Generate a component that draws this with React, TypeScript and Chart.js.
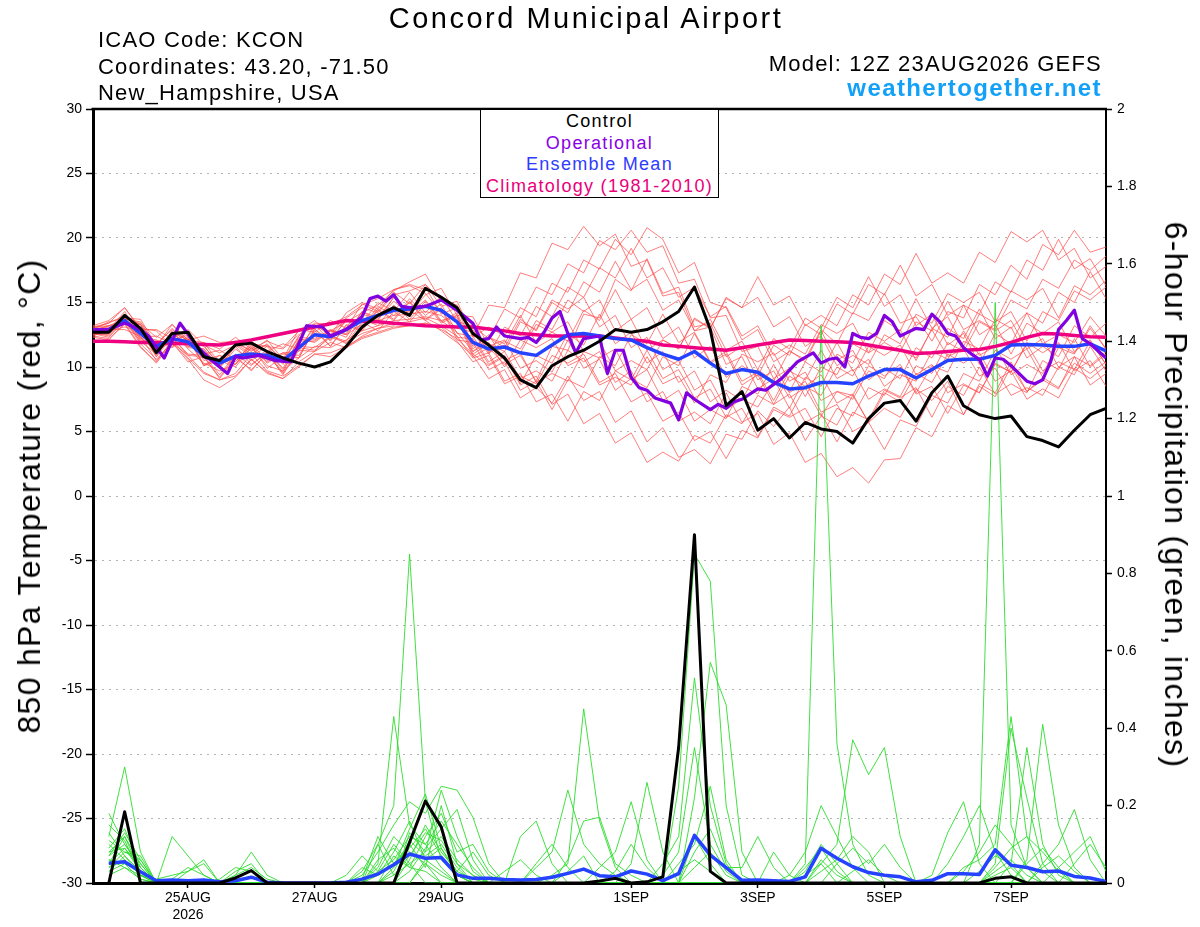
import React, { useEffect, useRef } from "react";
import { Chart, registerables } from "chart.js";
Chart.register(...registerables);

const FONT = '"Liberation Sans", Arial, Helvetica, sans-serif';
const STEP = 6; // hours between ensemble outputs

// X axis ticks (forecast hour from 12Z 23AUG2026)
const xTickHours = [36, 84, 132, 204, 252, 300, 348];
const xTickLabels: (string | string[])[] = [["25AUG", "2026"], "27AUG", "29AUG", "1SEP", "3SEP", "5SEP", "7SEP"];

// 850 hPa temperature (C), 6-hourly from hour 0
const controlTemp = [12.7,12.7,14.0,13.0,11.1,12.6,12.7,10.8,10.5,11.7,11.85,11.2,10.7,10.3,10.0,10.4,11.6,13.1,14.0,14.6,14.0,16.1,15.4,14.6,12.6,11.7,10.7,9.0,8.4,10.1,10.8,11.3,12.0,12.9,12.7,12.9,13.5,14.3,16.2,12.9,7.0,8.1,5.1,6.0,4.5,5.7,5.2,5.0,4.1,6.0,7.2,7.4,5.8,8.0,9.3,7.0,6.3,6.0,6.2,4.6,4.3,3.8,5.1,6.3,6.8];
const meanTemp = [12.8,12.9,13.6,12.6,11.6,12.2,11.95,10.85,10.3,10.85,11.0,10.9,10.5,11.5,12.5,12.35,12.9,13.6,14.0,14.4,14.5,14.7,14.4,13.5,11.9,11.4,11.55,11.1,10.9,11.7,12.5,12.6,12.4,12.2,12.1,11.5,11.0,10.6,11.2,10.3,9.5,9.8,9.6,8.8,8.3,8.4,8.8,8.8,8.7,9.3,9.8,9.8,9.15,9.8,10.5,10.6,10.6,10.9,11.7,11.75,11.7,11.6,11.6,11.8,11.25];
const climTemp = [12.0,12.0,11.95,11.9,11.9,11.85,11.8,11.75,11.7,11.9,12.1,12.35,12.6,12.85,13.1,13.35,13.6,13.55,13.5,13.4,13.3,13.2,13.15,13.1,13.1,12.95,12.8,12.6,12.5,12.4,12.4,12.4,12.4,12.25,12.1,12.0,11.7,11.6,11.5,11.4,11.3,11.5,11.7,11.9,12.1,12.05,12.0,11.95,11.9,11.7,11.5,11.3,11.05,11.1,11.2,11.3,11.35,11.6,11.9,12.3,12.6,12.55,12.45,12.35,12.3];

// Operational run (irregular hours)
const opHours = [0,6,12,18,21,27,33,39,45,51,54,57,63,69,75,81,87,90,96,102,105,108,111,114,117,120,126,132,138,144,147,150,153,156,162,165,168,171,174,177,180,183,186,192,195,198,201,204,207,210,213,219,222,225,228,234,237,240,243,246,252,255,261,267,273,276,279,282,285,288,291,294,297,300,303,306,309,312,315,318,321,324,327,330,333,336,339,342,345,348,351,354,357,360,363,366,369,372,375,378,384];
const opTemp = [12.9,12.9,13.4,12.9,12.4,10.7,13.4,11.7,10.5,9.5,10.8,10.7,10.9,10.5,10.4,13.2,13.1,12.4,12.9,13.9,15.3,15.5,15.1,15.6,14.7,14.6,14.7,15.2,14.4,13.4,12.1,12.2,13.1,12.4,12.2,12.3,11.9,12.7,13.8,14.3,12.6,11.1,12.2,12.4,9.5,11.3,11.3,9.2,8.4,8.2,7.6,7.2,5.9,8.0,7.5,6.7,7.1,6.8,7.3,7.5,8.3,8.2,9.1,10.4,11.1,10.3,10.6,10.7,10.0,12.6,12.3,12.2,12.6,14.0,13.5,12.4,12.7,13.0,12.9,14.1,13.5,12.6,12.4,11.5,11.0,10.6,9.3,10.7,10.6,10.1,9.5,8.9,8.7,9.0,10.4,12.9,13.6,14.4,12.2,11.8,10.7];

// Ensemble member temperatures (6-hourly from hour 0)
const tMem01 = [13.0,13.4,14.0,13.3,11.8,12.9,12.0,11.6,10.2,11.8,11.3,11.7,10.5,12.4,13.3,12.4,13.8,14.6,14.2,15.6,15.9,16.4,15.2,14.8,12.3,13.1,12.4,14.6,13.9,16.5,15.8,18.3,17.6,19.9,18.7,20.8,19.9,17.3,18.1,15.0,14.6,12.1,12.9,10.4,11.2,10.6,12.9,11.8,14.2,13.6,15.7,13.4,13.9,12.0,14.3,13.8,16.4,15.6,17.9,16.8,19.5,18.7,20.6,18.9,19.3];
const tMem02 = [12.6,12.3,13.6,11.8,10.6,11.9,10.9,9.6,9.0,9.3,10.6,9.5,9.1,10.4,11.2,11.9,11.5,12.4,13.0,13.2,14.4,13.6,12.8,11.9,10.9,9.1,9.8,7.6,8.4,7.2,9.3,7.4,8.1,5.7,6.6,4.2,5.3,3.0,3.6,2.5,4.8,4.4,6.6,5.4,6.9,4.3,6.2,5.5,7.8,5.7,6.8,6.1,8.3,7.4,8.9,6.3,8.5,7.7,10.0,8.1,9.2,8.4,10.3,9.5,10.4];
const tMem03 = [12.9,13.2,13.5,13.4,12.3,13.3,12.1,11.9,11.4,12.3,11.4,12.0,11.5,12.8,13.6,12.5,14.2,15.0,14.5,16.0,16.3,15.7,14.2,13.8,10.8,11.5,10.2,10.9,8.9,11.6,11.3,14.1,13.8,16.8,15.9,18.4,15.7,16.2,13.1,13.4,10.8,11.6,9.0,9.7,7.6,8.4,6.2,8.1,7.8,10.1,9.3,10.2,8.0,10.1,9.6,12.0,11.4,13.7,13.0,14.2,11.8,12.5,11.9,13.9,12.4];
const tMem04 = [12.4,12.9,12.9,12.4,10.5,11.9,10.4,10.8,9.2,10.9,9.7,11.1,9.4,11.3,11.2,12.5,11.8,13.5,12.8,14.3,13.5,14.9,13.4,14.0,11.0,11.8,11.2,13.5,12.9,15.2,14.5,15.4,13.1,14.0,11.5,12.3,9.8,10.5,8.2,9.0,6.7,7.5,6.9,8.9,8.1,10.4,9.6,11.9,9.7,10.6,8.5,9.4,8.9,11.2,10.6,12.8,10.9,11.6,9.4,10.2,9.5,11.8,11.1,13.0,11.4];
const tMem05 = [13.2,13.6,14.6,13.0,12.8,11.6,12.4,10.1,10.9,10.2,12.0,11.2,11.8,11.4,13.1,12.8,12.6,14.3,13.8,15.4,14.1,15.6,16.1,14.0,13.9,11.6,12.1,9.9,10.5,9.6,12.1,9.9,10.6,8.2,9.1,8.4,10.8,10.1,12.6,10.3,11.0,8.6,9.4,7.1,7.9,5.7,6.4,4.2,6.5,5.9,8.2,7.6,8.4,6.1,8.5,7.8,10.0,7.9,8.7,8.0,10.5,9.8,12.2,10.0,11.0];
const tMem06 = [12.7,12.6,13.9,12.1,11.9,12.0,12.5,11.0,11.3,10.6,11.6,9.9,10.8,10.7,12.9,12.1,13.6,13.0,14.7,14.0,15.0,13.6,14.5,12.1,11.9,9.8,10.4,8.2,8.9,6.7,9.0,8.4,10.8,10.1,12.5,11.8,14.1,11.9,12.7,10.4,11.2,8.9,9.6,7.4,9.7,9.0,11.3,9.1,9.8,7.5,8.3,7.7,10.1,9.5,11.9,11.2,13.5,12.8,13.6,11.4,12.2,10.0,10.8,8.6,9.5];
const tMem07 = [12.8,12.9,14.3,12.3,12.4,11.8,12.7,10.5,10.9,10.4,11.8,10.5,11.1,11.2,13.3,12.0,13.7,13.4,15.0,14.3,15.8,14.2,15.5,13.5,13.2,12.2,14.5,13.8,16.2,15.6,18.0,17.3,19.8,19.1,20.6,18.9,19.4,16.5,16.8,13.8,14.0,11.2,11.6,9.1,9.9,7.7,10.0,9.4,11.8,11.1,13.6,12.8,15.3,13.0,13.9,11.6,14.1,13.4,15.9,15.2,16.1,13.8,16.3,15.6,16.7];
const tMem08 = [12.5,12.8,13.1,12.8,10.8,12.3,11.0,10.9,9.4,11.0,10.1,11.2,9.8,11.6,11.5,12.4,12.0,13.8,13.2,14.8,13.7,15.1,13.5,14.2,11.4,12.5,10.5,11.1,8.8,9.5,8.9,11.2,10.7,11.4,9.0,9.8,7.4,8.2,5.8,6.7,6.0,8.5,7.9,10.2,8.0,8.9,6.5,7.1,5.0,5.7,3.6,5.9,5.4,7.8,7.2,9.5,8.9,11.3,10.6,11.4,9.2,11.5,11.0,13.2,11.4];
const tMem09 = [13.1,13.2,13.7,13.5,11.6,13.3,11.9,11.7,10.0,11.6,10.2,11.1,9.6,12.2,11.9,12.8,12.3,14.3,13.6,15.4,14.3,16.2,14.1,14.6,11.6,12.3,11.5,13.7,12.8,15.0,14.2,16.6,15.8,18.2,16.0,16.8,14.4,15.2,12.8,13.7,11.3,12.0,9.8,12.2,11.4,13.8,13.0,15.4,14.6,17.0,14.7,15.6,13.2,14.1,11.7,12.6,10.2,12.6,11.8,14.2,13.4,15.8,15.0,17.4,15.3];
const tMem10 = [12.6,12.7,13.8,11.9,12.0,11.5,12.3,10.2,10.6,10.2,11.7,10.3,11.0,10.9,12.8,11.6,13.3,12.9,14.5,13.7,15.3,14.0,14.9,12.6,12.4,10.4,11.2,9.1,9.7,8.9,11.3,10.4,11.2,8.8,9.7,7.3,8.1,5.8,6.5,5.6,8.0,5.7,6.4,4.0,4.9,2.6,3.3,1.5,2.2,1.0,2.8,2.9,5.3,4.6,7.0,6.3,8.7,8.0,10.4,8.1,9.0,8.3,10.8,10.1,11.2];
const tMem11 = [12.9,13.5,13.8,13.7,11.7,13.0,11.6,11.9,10.3,11.8,11.0,11.8,10.4,12.3,12.2,12.9,12.5,14.1,13.7,15.1,14.1,15.2,13.6,14.0,11.2,12.3,11.8,14.0,11.9,12.7,12.0,14.4,13.6,16.0,13.7,14.6,12.2,13.1,10.7,11.6,9.2,10.1,9.3,11.7,10.9,13.3,12.5,14.9,14.1,16.4,15.6,17.9,15.5,16.4,14.0,14.8,12.5,13.3,11.0,13.4,12.6,13.5,11.2,12.1,10.2];
const tMem12 = [12.3,12.1,13.4,11.6,10.3,11.9,10.6,9.0,8.4,9.2,10.6,9.6,9.1,10.0,11.0,10.8,11.5,12.2,12.6,13.0,13.2,13.4,12.9,12.2,11.0,10.1,10.8,8.6,9.3,7.1,7.9,5.6,6.4,4.1,4.9,2.6,3.4,2.7,4.7,4.1,6.3,5.6,7.8,7.1,9.3,8.5,9.4,7.2,7.9,5.7,8.0,7.3,9.5,8.8,11.0,10.3,11.1,8.9,9.7,7.5,8.3,7.6,9.9,9.1,10.1];
const tMem13 = [13.0,13.0,13.4,13.3,11.2,12.7,11.5,11.4,10.0,11.7,10.8,11.6,10.2,12.0,12.0,12.8,13.5,14.2,14.8,15.9,16.6,17.2,15.1,14.4,12.9,11.2,12.0,11.4,13.6,12.9,15.2,14.3,15.2,12.8,13.7,11.3,12.1,11.4,13.8,13.0,15.4,14.6,17.0,14.8,15.5,13.2,14.0,13.2,15.6,14.8,17.2,16.4,18.8,16.5,17.3,16.5,18.9,18.1,20.5,19.7,20.6,18.3,19.2,16.9,17.8];
const tMem14 = [12.7,12.4,13.7,12.2,12.1,11.6,12.2,10.1,10.5,10.0,11.5,10.4,11.1,10.7,13.0,11.6,13.2,12.8,14.4,13.6,15.1,13.7,14.6,12.3,12.2,10.2,10.9,8.7,10.9,10.3,12.6,11.7,14.1,11.8,12.7,10.3,11.2,8.8,9.7,7.3,8.2,7.4,9.8,8.9,11.3,10.4,12.8,10.5,11.3,9.0,9.9,9.1,11.5,10.7,13.0,12.2,14.5,12.2,13.1,10.7,11.6,10.8,13.2,12.3,13.4];
const tMem15 = [12.8,13.2,13.4,13.1,10.8,12.7,12.1,12.4,11.9,12.0,11.2,12.1,10.6,12.9,12.7,13.6,13.0,14.9,14.3,15.8,14.9,16.4,14.7,15.1,12.4,14.8,14.6,17.3,16.9,19.6,19.1,20.9,19.4,20.3,17.8,18.3,15.5,15.8,12.8,13.1,10.2,10.8,8.3,9.1,6.8,9.2,8.5,11.0,10.3,12.7,12.0,12.9,10.5,13.0,12.3,14.8,14.1,16.6,15.8,18.3,17.5,19.9,17.6,18.4,16.3];
const tMem16 = [12.5,12.6,13.6,12.0,11.0,12.3,10.9,10.8,9.1,10.7,9.8,11.0,9.5,11.5,11.3,12.3,11.9,12.6,13.0,13.4,13.5,13.8,13.2,12.4,10.7,11.1,8.9,9.5,7.3,7.9,5.8,8.1,7.4,9.7,9.0,11.3,9.1,9.8,7.6,8.3,6.1,6.8,4.6,6.9,6.2,8.5,7.8,10.0,9.3,11.6,10.9,11.7,9.4,10.2,8.0,8.7,8.0,10.3,9.6,11.9,11.1,11.9,9.7,10.5,8.5];
const tMem17 = [13.1,13.4,14.6,12.9,12.9,12.2,12.9,11.7,11.1,11.7,11.8,11.6,11.4,12.5,13.4,13.3,13.9,14.8,15.3,16.0,16.4,16.0,15.5,14.6,13.2,11.1,11.7,11.1,13.3,12.7,13.5,11.2,12.0,9.7,10.5,9.8,12.1,11.4,13.7,13.0,15.3,14.6,15.4,13.1,13.9,11.6,12.4,10.1,10.9,10.2,12.5,11.8,14.1,13.4,15.7,15.0,15.8,13.5,14.3,12.0,14.3,13.6,15.9,15.2,16.2];
const tMem18 = [12.6,12.5,13.8,12.3,11.2,12.8,11.4,10.3,9.7,10.2,11.5,10.1,9.7,10.7,11.6,11.5,12.1,12.8,13.2,13.6,13.7,13.9,13.6,12.7,11.2,11.9,10.0,12.1,11.5,12.2,10.1,10.7,8.6,9.2,8.6,10.8,8.7,9.3,7.2,9.4,8.8,11.0,10.4,11.1,8.9,9.6,7.4,8.1,7.5,9.7,9.1,11.3,10.7,12.9,10.8,11.4,9.3,9.9,7.8,8.4,7.8,10.0,9.4,11.6,9.7];
const tMem19 = [12.8,13.1,13.5,13.3,11.3,12.7,11.6,11.4,9.9,11.4,10.5,11.3,9.9,12.1,12.1,12.8,12.5,13.3,13.6,14.0,14.1,14.3,14.0,13.0,12.7,11.0,13.1,12.4,14.7,13.9,16.2,15.4,17.7,16.9,19.2,16.9,17.7,15.4,16.2,13.9,14.7,12.4,13.2,10.9,11.7,11.0,13.3,12.6,13.4,11.1,11.9,11.2,13.5,12.8,15.1,12.9,13.6,12.9,15.2,14.5,16.8,16.1,18.3,17.5,18.6];
const tMem20 = [12.4,12.2,13.3,11.5,10.4,12.1,10.7,9.5,9.0,9.5,11.0,9.7,9.3,10.1,11.0,11.1,11.6,12.3,12.7,13.1,13.2,13.4,13.1,12.0,10.4,10.9,8.7,9.3,8.7,10.9,10.3,11.0,8.8,9.5,7.3,8.0,5.8,6.5,4.3,5.0,2.9,5.1,4.5,6.7,6.1,6.8,4.6,6.8,6.2,8.4,7.8,10.0,7.9,8.5,6.4,8.6,8.0,10.2,9.6,11.8,9.7,10.4,9.8,12.0,10.2];
const tempMembers = [tMem01,tMem02,tMem03,tMem04,tMem05,tMem06,tMem07,tMem08,tMem09,tMem10,tMem11,tMem12,tMem13,tMem14,tMem15,tMem16,tMem17,tMem18,tMem19,tMem20];

// 6-hour precipitation (inches), 6-hourly from hour 6
const controlPrecip = [0,.184,0,0,0,0,0,0, .013,.032,0,0,0,0,0,0, 0,0,0,.105,.212,.145,0,0, 0,0,0,0,0,0,0,.005, .012,0,.003,.016,.35,.90,.03,0, 0,0,0,0,0,0,0,0, 0,0,0,0,0,0,0,0, .012,.016,0,0,0,0,0,0];
const meanPrecip = [.051,.055,.029,.006,.008,.006,.008,.003, .006,.015,.002,0,0,0,0,.002, .01,.023,.047,.075,.064,.066,.021,.012, .012,.009,.008,.009,.015,.025,.036,.019, .016,.031,.023,.006,.024,.123,.072,.04, .007,.008,.006,.004,.016,.09,.064,.042, .027,.02,.016,.003,.007,.024,.024,.022, .086,.046,.04,.029,.031,.017,.013,.004];

const pMem01 = [.12,.30,.08,0,0,0,0,0, 0,0,0,0,0,0,0,0, .03,.10,.20,.85,.21,.06,.02,0, 0,0,0,0,0,0,0,0, 0,0,0,.05,.12,.53,.20,.05, 0,0,0,0,0,0,0,0, 0,0,0,0,0,0,.03,.08, .15,.10,.04,0,0,0,0,0];
const pMem02 = [.18,.10,.04,0,0,0,0,0, 0,0,0,0,0,0,0,0, 0,.05,.43,.15,.10,.04,0,0, 0,0,0,0,.02,.05,.45,.16, .04,0,0,0,0,0,0,0, 0,0,0,0,.05,1.44,.36,.10, .02,0,0,0,0,0,0,0, 0,0,0,0,0,0,0,0];
const pMem03 = [.08,.12,.05,0,.12,.07,.02,0, 0,0,0,0,0,0,0,0, .02,.08,.15,.21,.18,.25,.24,.17, .05,0,0,0,0,0,0,0, 0,0,0,0,0,0,0,0, 0,0,0,0,0,.05,.10,.37, .28,.35,.12,0,0,0,0,0, .03,.06,.02,0,0,0,0,0];
const pMem04 = [.05,.09,.03,0,0,0,0,0, .02,.08,.02,0,0,0,0,0, 0,.03,.06,.12,.10,.16,.10,.04, 0,0,0,0,0,0,0,0, 0,0,0,0,.25,.85,.78,.20, .02,0,0,0,0,0,0,0, 0,0,0,0,0,.05,.12,.20, .08,.02,0,0,0,0,0,0];
const pMem05 = [.10,.06,.02,.01,.02,.03,.06,0, 0,0,0,0,0,0,0,.02, .07,.03,.10,.05,.08,.24,.12,.03, 0,0,.12,.16,.05,0,0,0, 0,0,0,0,0,0,0,0, 0,0,0,0,.03,.10,.05,0, 0,0,0,0,0,0,0,.03, .07,.05,0,0,0,0,0,0];
const pMem06 = [.04,.08,.06,0,0,0,0,0, 0,0,0,0,0,0,0,0, .01,.12,.05,.09,.14,.07,.02,0, 0,0,0,0,0,0,0,0, 0,0,0,0,0,.22,.57,.46, .08,0,0,0,0,0,0,0, 0,0,0,0,0,0,0,.10, 1.50,.15,.04,0,0,0,0,0];
const pMem07 = [.15,.11,.02,0,0,0,0,0, 0,0,0,0,0,0,0,0, 0,0,.04,.14,.23,.09,.03,.01, 0,0,0,.04,.08,.24,.10,.05, .02,0,0,0,0,0,0,0, 0,0,0,.02,.08,.20,.12,.04, 0,0,0,0,0,0,0,0, 0,0,0,0,0,0,0,0];
const pMem08 = [.06,.05,.03,0,.01,.04,.02,0, 0,0,0,0,0,0,0,0, 0,.06,.09,.04,.12,.18,.08,.10, .03,0,0,0,0,0,0,0, 0,0,0,0,.05,.10,.25,.06, 0,0,0,0,0,0,0,0, 0,0,0,0,0,0,0,0, .05,.40,.22,.05,0,0,0,0];
const pMem09 = [.09,.14,.04,0,0,0,0,0, .03,.05,0,0,0,0,0,0, .04,.02,.08,.16,.06,.03,0,0, 0,0,0,0,0,.06,.16,.17, .05,.02,0,0,0,0,0,0, 0,0,0,0,0,.03,.06,.12, .08,0,0,0,0,0,0,0, 0,0,0,0,0,0,0,0];
const pMem10 = [.03,.07,.02,0,0,0,0,0, 0,0,0,0,0,0,0,0, 0,0,.02,.07,.13,.11,.05,0, 0,0,0,0,0,0,0,0, 0,0,0,0,0,.08,.14,.04, .04,.12,.04,0,0,0,0,0, 0,0,0,0,0,0,.04,.06, .10,.43,.12,.03,0,0,0,0];
const pMem11 = [.07,.10,.05,0,0,0,0,0, 0,0,0,0,0,0,0,0, 0,.02,.05,.10,.04,.20,.05,.02, 0,0,0,0,0,0,0,.04, .08,.21,.06,0,0,0,0,0, 0,0,0,0,.04,.09,.03,0, 0,0,0,0,0,0,0,0, 0,0,0,.04,.07,.03,0,0];
const pMem12 = [.02,.04,.01,0,0,.03,.05,0, 0,0,0,0,0,0,0,0, 0,0,0,.03,.09,.14,.19,.06, 0,0,0,0,0,0,0,0, 0,0,0,0,.03,.06,.03,0, 0,0,0,0,0,0,0,0, 0,0,0,0,0,0,0,0, 0,.05,.35,.10,.02,0,0,0];
const pMem13 = [.11,.08,.07,0,0,0,0,0, 0,0,0,0,0,0,0,0, 0,.04,.12,.08,.05,0,0,0, 0,0,0,0,0,0,0,0, 0,.05,.26,.08,0,0,0,0, 0,0,0,0,0,0,.05,.09, .05,.10,.04,0,0,0,0,0, .02,.04,0,0,0,0,0,0];
const pMem14 = [.05,.12,.03,0,0,0,0,.01, .04,.03,0,0,0,0,0,0, 0,0,0,.06,.15,.08,.03,.08, .02,0,0,0,0,0,0,0, 0,0,0,0,0,.12,.05,0, 0,0,0,0,0,0,0,0, 0,0,0,0,0,0,0,0, 0,0,.06,.41,.15,.04,0,0];
const pMem15 = [.06,.04,.02,0,0,0,0,0, 0,0,0,0,0,0,0,0, 0,0,.03,.11,.07,.10,.04,0, 0,.03,.06,.02,0,.03,.07,0, 0,0,0,0,0,0,0,0, 0,0,0,0,0,.06,.02,0, 0,0,0,0,0,0,0,0, 0,0,0,0,0,.05,.10,.04];
const pMem16 = [.08,.09,.04,0,0,0,0,0, 0,0,0,0,0,0,0,0, 0,0,0,0,.05,.02,0,0, 0,0,0,0,0,0,0,0, 0,0,0,.02,.08,.35,.10,.03, 0,0,0,0,0,0,0,0, 0,0,0,0,0,0,0,0, 0,0,0,.05,.10,.19,.06,0];
const pMem17 = [.04,.06,.02,0,0,0,0,0, .02,.04,.01,0,0,0,0,0, 0,.10,.02,.05,0,0,0,0, 0,0,0,0,0,0,0,0, .03,.10,.04,0,0,0,0,0, 0,0,0,0,.02,.05,0,0, 0,0,0,0,.02,.13,.21,.05, 0,0,0,0,0,0,0,0];
const pMem18 = [.13,.07,.03,0,0,0,0,0, 0,0,0,0,0,0,0,0, 0,0,0,.13,.08,.12,.06,.02, 0,0,0,0,0,0,0,0, 0,0,0,0,0,.04,.08,.02, 0,0,0,0,0,0,0,0, 0,0,0,0,0,0,0,0, .04,.09,.12,.08,.03,0,0,0];
const pMem19 = [.03,.05,.01,0,0,0,0,0, 0,0,0,0,0,0,0,0, 0,0,.07,.04,.03,0,0,0, 0,0,0,.05,.10,.04,0,0, 0,0,0,0,0,0,0,0, 0,0,0,0,0,0,0,.03, .06,.02,0,0,0,0,0,0, 0,0,.05,.09,.04,0,0,0];
const pMem20 = [.07,.13,.06,0,0,0,0,0, 0,0,0,0,0,0,0,0, 0,0,0,0,.06,.09,.02,0, 0,0,0,0,0,0,0,0, 0,0,0,0,0,0,0,0, 0,0,.08,.02,0,0,0,0, 0,0,0,0,0,0,0,0, 0,0,0,0,.04,.08,.12,.03];
const precipMembers = [pMem01,pMem02,pMem03,pMem04,pMem05,pMem06,pMem07,pMem08,pMem09,pMem10,pMem11,pMem12,pMem13,pMem14,pMem15,pMem16,pMem17,pMem18,pMem19,pMem20];

const tempPts = (arr: number[]) => arr.map((v, i) => ({ x: i * STEP, y: v }));
const precipPts = (arr: number[]) => arr.map((v, i) => ({ x: (i + 1) * STEP, y: v }));

const framePlugin = {
  id: "frameTop",
  afterDraw(chart: any) {
    const { ctx, chartArea } = chart;
    ctx.save();
    ctx.strokeStyle = "#000";
    ctx.lineWidth = 2.5;
    ctx.beginPath();
    ctx.moveTo(chartArea.left - 1.5, chartArea.top);
    ctx.lineTo(chartArea.right + 1, chartArea.top);
    ctx.stroke();
    ctx.restore();
  },
};

export default function App() {
  const ref = useRef<HTMLCanvasElement>(null);
  useEffect(() => {
    const canvas = ref.current;
    if (!canvas) return;
    const base = { pointRadius: 0, pointHoverRadius: 0, tension: 0, fill: false, borderJoinStyle: "round" as const };
    const datasets: any[] = [];
    tempMembers.forEach((m, k) =>
      datasets.push({ ...base, label: "T member " + (k + 1), data: tempPts(m), yAxisID: "yT", borderColor: "rgba(255,75,75,0.8)", borderWidth: 0.9, order: 7 })
    );
    precipMembers.forEach((m, k) =>
      datasets.push({ ...base, label: "P member " + (k + 1), data: precipPts(m), yAxisID: "yP", borderColor: "rgb(45,220,45)", borderWidth: 0.9, order: 6 })
    );
    datasets.push({ ...base, label: "Climatology", data: tempPts(climTemp), yAxisID: "yT", borderColor: "#ee0080", borderWidth: 3.5, order: 5 });
    datasets.push({ ...base, label: "Ensemble Mean precip", data: precipPts(meanPrecip), yAxisID: "yP", borderColor: "#2442ff", borderWidth: 3.5, order: 4 });
    datasets.push({ ...base, label: "Ensemble Mean", data: tempPts(meanTemp), yAxisID: "yT", borderColor: "#2442ff", borderWidth: 3.5, order: 3 });
    datasets.push({ ...base, label: "Operational", data: opHours.map((h, i) => ({ x: h, y: opTemp[i] })), yAxisID: "yT", borderColor: "#8000e0", borderWidth: 3.2, order: 2 });
    datasets.push({ ...base, label: "Control precip", data: precipPts(controlPrecip), yAxisID: "yP", borderColor: "#000", borderWidth: 3, order: 1 });
    datasets.push({ ...base, label: "Control", data: tempPts(controlTemp), yAxisID: "yT", borderColor: "#000", borderWidth: 3, order: 0 });

    const tickFont = { family: FONT, size: 14 };
    const chart = new Chart(canvas, {
      type: "line",
      data: { datasets },
      plugins: [framePlugin],
      options: {
        responsive: false,
        animation: false,
        events: [],
        layout: { padding: { top: 109, left: 0, right: 0, bottom: 0 } },
        plugins: { legend: { display: false }, tooltip: { enabled: false }, title: { display: false } },
        scales: {
          x: {
            type: "linear",
            min: 0,
            max: 384,
            afterBuildTicks: (s: any) => {
              s.ticks = xTickHours.map((v) => ({ value: v }));
            },
            afterFit: (s: any) => {
              s.height = 44;
            },
            ticks: {
              autoSkip: false,
              maxRotation: 0,
              minRotation: 0,
              color: "#000",
              font: tickFont,
              padding: 2,
              callback: (v: any) => {
                const k = xTickHours.indexOf(Number(v));
                return k >= 0 ? xTickLabels[k] : "";
              },
            },
            grid: { drawOnChartArea: false, drawTicks: true, tickLength: 5, tickColor: "#000", tickWidth: 1.5 },
            border: { display: true, color: "#000", width: 3 },
          },
          yT: {
            type: "linear",
            position: "left",
            min: -30,
            max: 30,
            afterFit: (s: any) => {
              s.width = 93;
            },
            ticks: { stepSize: 5, color: "#000", font: tickFont, padding: 4 },
            grid: {
              color: "#b4b4b4",
              lineWidth: 1,
              drawTicks: true,
              tickLength: 7,
              tickColor: "#000",
              tickWidth: 1.5,
              tickBorderDash: [],
            },
            border: { display: true, color: "#000", width: 3, dash: [2, 5] },
          },
          yP: {
            type: "linear",
            position: "right",
            min: 0,
            max: 2,
            afterFit: (s: any) => {
              s.width = 94;
            },
            ticks: {
              stepSize: 0.2,
              color: "#000",
              font: tickFont,
              padding: 5,
              callback: (v: any) => String(Number(Number(v).toFixed(1))),
            },
            grid: { drawOnChartArea: false, drawTicks: true, tickLength: 6, tickColor: "#000", tickWidth: 1.5 },
            border: { display: true, color: "#000", width: 2 },
          },
        },
      } as any,
    });
    return () => chart.destroy();
  }, []);

  const abs: React.CSSProperties = { position: "absolute", whiteSpace: "nowrap", color: "#000" };
  const hdr: React.CSSProperties = { ...abs, fontSize: 22, lineHeight: "22px", letterSpacing: "1.2px" };
  return (
    <div style={{ position: "absolute", left: 0, top: 0, width: 1200, height: 927, background: "#fff", fontFamily: FONT, overflow: "hidden" }}>
      <canvas ref={ref} width={1200} height={927} style={{ position: "absolute", left: 0, top: 0, width: 1200, height: 927 }} />
      <div style={{ ...abs, left: 0, width: 1172, top: 4, textAlign: "center", fontSize: 29, lineHeight: "29px", letterSpacing: "2.5px" }}>Concord Municipal Airport</div>
      <div style={{ ...hdr, left: 98, top: 29 }}>ICAO Code: KCON</div>
      <div style={{ ...hdr, left: 98, top: 56 }}>Coordinates: 43.20, -71.50</div>
      <div style={{ ...hdr, left: 98, top: 82 }}>New_Hampshire, USA</div>
      <div style={{ ...hdr, right: 98, top: 53 }}>Model: 12Z 23AUG2026 GEFS</div>
      <div style={{ ...abs, right: 98, top: 76, fontSize: 24, lineHeight: "24px", letterSpacing: "1.4px", fontWeight: "bold", color: "#13a0f7" }}>weathertogether.net</div>
      <div
        style={{
          position: "absolute",
          left: 480,
          top: 109,
          width: 239,
          height: 89,
          boxSizing: "border-box",
          border: "1.5px solid #000",
          background: "#fff",
          textAlign: "center",
          fontSize: 18,
          lineHeight: "21.7px",
          letterSpacing: "1.3px",
          paddingTop: 1,
          whiteSpace: "nowrap",
        }}
      >
        <div style={{ color: "#000" }}>Control</div>
        <div style={{ color: "#8a00e6" }}>Operational</div>
        <div style={{ color: "#2e3cff" }}>Ensemble Mean</div>
        <div style={{ color: "#ea007a" }}>Climatology (1981-2010)</div>
      </div>
      <div
        style={{
          ...abs,
          left: 29,
          top: 496,
          fontSize: 32,
          lineHeight: "32px",
          letterSpacing: "1.3px",
          transform: "translate(-50%, -50%) rotate(-90deg)",
        }}
      >
        850 hPa Temperature (red, °C)
      </div>
      <div
        style={{
          ...abs,
          left: 1176,
          top: 495,
          fontSize: 32,
          lineHeight: "32px",
          letterSpacing: "1.3px",
          transform: "translate(-50%, -50%) rotate(90deg)",
        }}
      >
        6-hour Precipitation (green, inches)
      </div>
    </div>
  );
}
